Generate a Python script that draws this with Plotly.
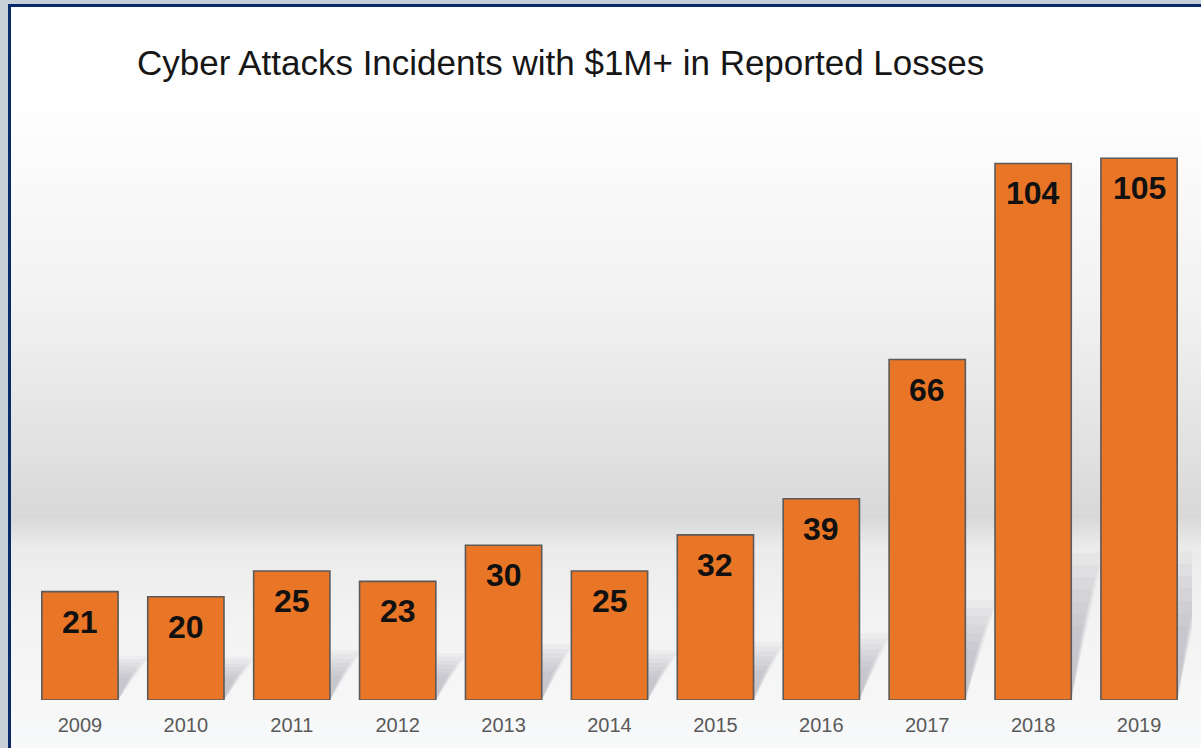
import plotly.graph_objects as go

# ---- data ----
years = ["2009", "2010", "2011", "2012", "2013", "2014", "2015", "2016", "2017", "2018", "2019"]
incidents = [21, 20, 25, 23, 30, 25, 32, 39, 66, 104, 105]
title_text = "Cyber Attacks Incidents with $1M+ in Reported Losses"

# ---- layout geometry (pixels) ----
W, H = 1201, 748
M_L, M_R, M_T, M_B = 27, 9, 100, 48
PLOT_H = H - M_T - M_B
Y_MAX = 116.3
BARGAP = 0.28
HALF = (1 - BARGAP) / 2


def py(yp):
    """figure pixel (from top) -> paper y"""
    return (H - M_B - yp) / PLOT_H


def px(xp):
    return (xp - M_L) / (W - M_L - M_R)


def hex2rgb(h):
    h = h.lstrip("#")
    return tuple(int(h[i:i + 2], 16) for i in (0, 2, 4))


def lerp(c1, c2, t):
    a, b = hex2rgb(c1), hex2rgb(c2)
    return "rgb(%d,%d,%d)" % tuple(round(a[i] + (b[i] - a[i]) * t) for i in range(3))


grad_stops = [(6, "#ffffff"), (110, "#fefefe"), (300, "#f2f2f2"), (440, "#e2e2e2"),
              (515, "#d8d8d8"), (545, "#ebebeb"), (620, "#f3f3f3"), (748, "#f8f9fa")]

shapes = []
# inner area background gradient
step = 4
y = 6
while y < H:
    for (y0, c0), (y1, c1) in zip(grad_stops[:-1], grad_stops[1:]):
        if y0 <= y < y1:
            col = lerp(c0, c1, (y - y0) / (y1 - y0))
            break
    else:
        col = grad_stops[-1][1]
    shapes.append(dict(type="rect", xref="paper", yref="paper",
                       x0=px(9), x1=px(W + 5), y0=py(min(y + step, H) + 0.5), y1=py(y),
                       fillcolor=col, line=dict(width=0), layer="below"))
    y += step

# soft cast shadows behind the bars (decorative, many faint layers)
shadow_layers = [(0.30, 1.20), (0.26, 1.10), (0.22, 1.00), (0.19, 0.90),
                 (0.16, 0.80), (0.13, 0.70), (0.10, 0.60)]
for i, v in enumerate(incidents):
    s = 0.2 * v + 3
    l, r = i - HALF, i + HALF
    for dx, ss in shadow_layers:
        path = "M %.3f,0 L %.3f,0 L %.3f,%.3f L %.3f,%.3f Z" % (
            l, r, r + dx, s * ss, l + dx, s * ss)
        shapes.append(dict(type="path", xref="x", yref="y", path=path,
                           fillcolor="rgba(120,120,128,0.06)",
                           line=dict(width=0), layer="below"))

# navy frame
shapes.append(dict(type="rect", xref="paper", yref="paper",
                   x0=px(9.5), x1=px(W + 10), y0=py(H + 10), y1=py(5.5),
                   fillcolor="rgba(0,0,0,0)", line=dict(color="#0b2a6b", width=3), layer="above"))

fig = go.Figure()
fig.add_trace(go.Bar(
    x=years, y=incidents,
    marker=dict(color="#e97527", line=dict(color="#5e5a58", width=1.6)),
    hoverinfo="skip",
))

annotations = []
for i, v in enumerate(incidents):
    annotations.append(dict(x=i, y=v, xref="x", yref="y", text="<b>%d</b>" % v,
                            showarrow=False, yanchor="middle", yshift=-30,
                            font=dict(family="Liberation Sans, Arial, sans-serif", size=32, color="#111111")))

annotations.append(dict(x=px(135), y=py(62), xref="paper", yref="paper", text=title_text,
                        showarrow=False, xanchor="left", yanchor="middle",
                        font=dict(family="Liberation Sans, Arial, sans-serif", size=35, color="#161616")))

fig.update_layout(
    width=W, height=H,
    margin=dict(l=M_L, r=M_R, t=M_T, b=M_B),
    paper_bgcolor="#c7cfd8",
    plot_bgcolor="rgba(0,0,0,0)",
    bargap=BARGAP,
    showlegend=False,
    shapes=shapes,
    annotations=annotations,
    xaxis=dict(type="category", range=[-0.5, len(years) - 0.5], autorange=False,
               showgrid=False, zeroline=False, showline=False, ticks="outside", ticklen=7,
               tickcolor="rgba(0,0,0,0)",
               tickfont=dict(family="Liberation Sans, Arial, sans-serif", size=20, color="#5a5a5a")),
    yaxis=dict(range=[0, Y_MAX], autorange=False, visible=False, showgrid=False, zeroline=False),
)

fig.write_html("out.html")
